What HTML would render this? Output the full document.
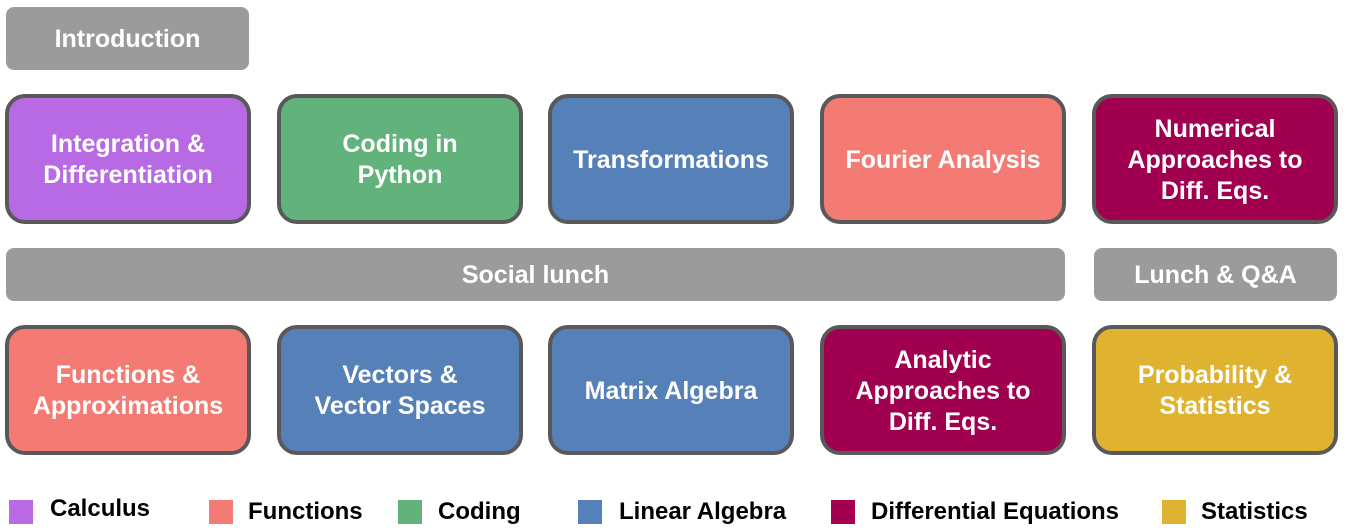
<!DOCTYPE html><html><head><style>
body{margin:0;width:1346px;height:532px;background:#fff;position:relative;overflow:hidden;font-family:"Liberation Sans",sans-serif;font-weight:bold}
.b{position:absolute;box-sizing:border-box;display:flex;align-items:center;justify-content:center;text-align:center;color:#fff;font-size:25px;line-height:31px;padding-top:2px}
.t{border:4px solid #595959;border-radius:20px;width:246px;height:130px}
.g{background:#9b9b9b;border-radius:8px}
.sq{position:absolute;width:24px;height:24px;top:500px}
.lb{position:absolute;top:498px;font-size:24px;color:#000}
</style></head><body>
<div class="b g" style="left:6px;top:7px;width:243px;height:63px">Introduction</div>
<div class="b t" style="left:5px;top:94px;background:#b86ae4">Integration &amp;<br>Differentiation</div>
<div class="b t" style="left:277px;top:94px;background:#62b27c">Coding in<br>Python</div>
<div class="b t" style="left:548px;top:94px;background:#5580b8">Transformations</div>
<div class="b t" style="left:820px;top:94px;background:#f37b73">Fourier Analysis</div>
<div class="b t" style="left:1092px;top:94px;background:#a10050">Numerical<br>Approaches to<br>Diff. Eqs.</div>
<div class="b g" style="left:6px;top:248px;width:1059px;height:53px">Social lunch</div>
<div class="b g" style="left:1094px;top:248px;width:243px;height:53px">Lunch &amp; Q&amp;A</div>
<div class="b t" style="left:5px;top:325px;background:#f37b73">Functions &amp;<br>Approximations</div>
<div class="b t" style="left:277px;top:325px;background:#5580b8">Vectors &amp;<br>Vector Spaces</div>
<div class="b t" style="left:548px;top:325px;background:#5580b8">Matrix Algebra</div>
<div class="b t" style="left:820px;top:325px;background:#a10050">Analytic<br>Approaches to<br>Diff. Eqs.</div>
<div class="b t" style="left:1092px;top:325px;background:#dfb22f">Probability &amp;<br>Statistics</div>
<div class="sq" style="left:9px;background:#b86ae4"></div><div class="lb" style="left:50px;top:495px">Calculus</div>
<div class="sq" style="left:209px;background:#f37b73"></div><div class="lb" style="left:248px">Functions</div>
<div class="sq" style="left:398px;background:#62b27c"></div><div class="lb" style="left:438px">Coding</div>
<div class="sq" style="left:578px;background:#5580b8"></div><div class="lb" style="left:619px">Linear Algebra</div>
<div class="sq" style="left:831px;background:#a10050"></div><div class="lb" style="left:871px">Differential Equations</div>
<div class="sq" style="left:1162px;background:#dfb22f"></div><div class="lb" style="left:1201px">Statistics</div>
</body></html>
